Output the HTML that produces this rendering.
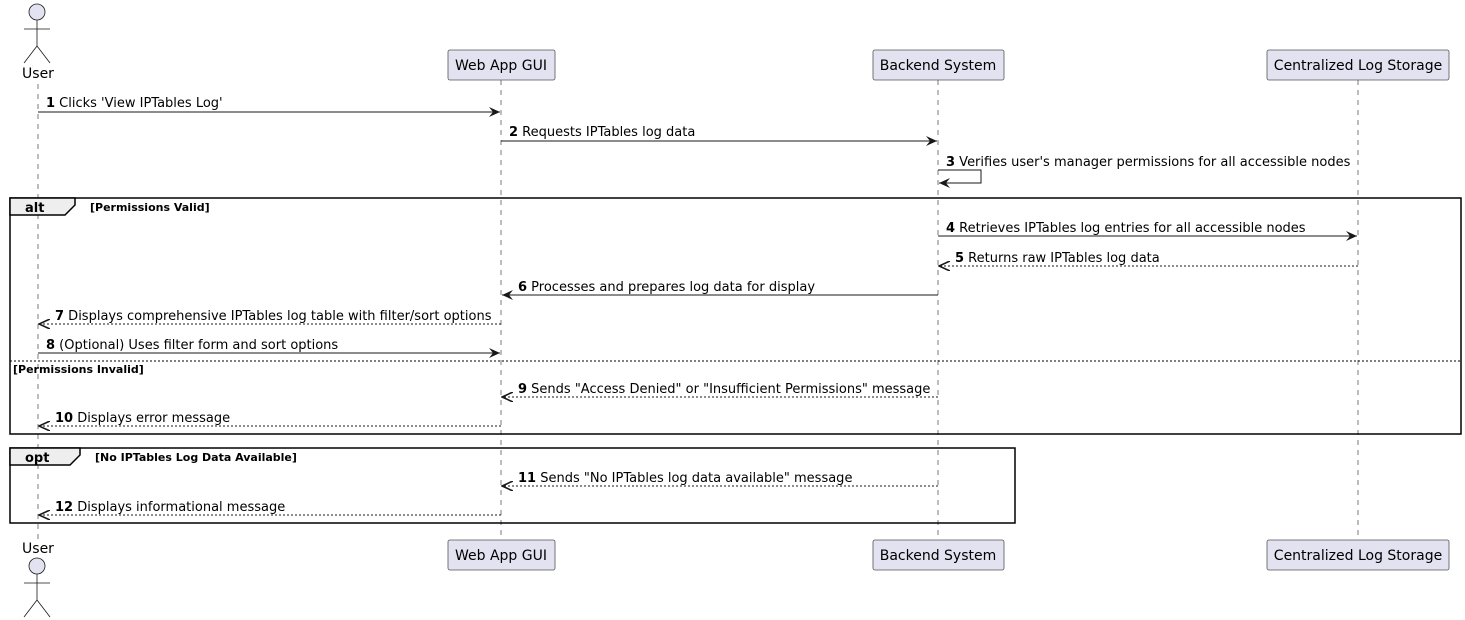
<!DOCTYPE html>
<html><head><meta charset="utf-8"><style>
html,body{margin:0;padding:0;background:#fff;}
svg{display:block;font-family:"DejaVu Sans","Liberation Sans",sans-serif;}
.t{font-size:13px;fill:#000;}
.p{font-size:14px;fill:#000;}
.b{font-weight:bold;}
.ll{stroke:#444;stroke-width:0.7;stroke-dasharray:5,5;}
.box{fill:#e2e2f0;stroke:#555;stroke-width:0.8;}
.m{stroke:#181818;stroke-width:1;fill:none;}
.d{stroke:#181818;stroke-width:1;stroke-dasharray:2,2;fill:none;}
.fr{fill:none;stroke:#000;stroke-width:1.5;}
.ft{font-size:11px;font-weight:bold;}
</style></head><body>
<svg width="1465" height="620" viewBox="0 0 1465 620" xmlns="http://www.w3.org/2000/svg">
<defs>
<marker id="a" viewBox="0 0 12 10" refX="11" refY="5" markerWidth="12" markerHeight="10" markerUnits="userSpaceOnUse" orient="auto"><path d="M0,0 L11,5 L0,10 L4,5 Z" fill="#181818"/></marker>
<marker id="o" viewBox="0 0 12 10" refX="11" refY="5" markerWidth="12" markerHeight="10" markerUnits="userSpaceOnUse" orient="auto"><path d="M0,0 L11,5 L0,10" fill="none" stroke="#181818" stroke-width="1.6"/></marker>
</defs>
<line class="ll" x1="38" y1="84" x2="38" y2="540"/>
<line class="ll" x1="501" y1="80" x2="501" y2="540"/>
<line class="ll" x1="938" y1="80" x2="938" y2="540"/>
<line class="ll" x1="1358" y1="80" x2="1358" y2="540"/>
<g stroke="#181818" stroke-width="0.8" fill="none">
<circle cx="37" cy="12" r="8" fill="#e2e2f0"/>
<line x1="37" y1="20" x2="37" y2="46"/><line x1="24" y1="29" x2="50" y2="29"/>
<line x1="37" y1="46" x2="24" y2="63"/><line x1="37" y1="46" x2="50" y2="63"/>
</g>
<text class="p" x="38" y="78" text-anchor="middle">User</text>
<g stroke="#181818" stroke-width="0.8" fill="none">
<circle cx="37" cy="566" r="8" fill="#e2e2f0"/>
<line x1="37" y1="574" x2="37" y2="600"/><line x1="24" y1="583" x2="50" y2="583"/>
<line x1="37" y1="600" x2="24" y2="617"/><line x1="37" y1="600" x2="50" y2="617"/>
</g>
<text class="p" x="38" y="553" text-anchor="middle">User</text>
<rect class="box" x="448" y="50" width="107" height="30" rx="2"/><text class="p" x="501" y="70" text-anchor="middle">Web App GUI</text>
<rect class="box" x="873" y="50" width="131" height="30" rx="2"/><text class="p" x="938" y="70" text-anchor="middle">Backend System</text>
<rect class="box" x="1267" y="50" width="182" height="30" rx="2"/><text class="p" x="1358" y="70" text-anchor="middle">Centralized Log Storage</text>
<rect class="box" x="448" y="540" width="107" height="30" rx="2"/><text class="p" x="501" y="560" text-anchor="middle">Web App GUI</text>
<rect class="box" x="873" y="540" width="131" height="30" rx="2"/><text class="p" x="938" y="560" text-anchor="middle">Backend System</text>
<rect class="box" x="1267" y="540" width="182" height="30" rx="2"/><text class="p" x="1358" y="560" text-anchor="middle">Centralized Log Storage</text>
<rect class="fr" x="10" y="198" width="1451" height="236"/>
<path d="M10,198 L75,198 L75,205 L65,215 L10,215 Z" fill="#eee" stroke="#000" stroke-width="1.5"/>
<text class="t b" x="25" y="212">alt</text>
<text class="ft" x="90" y="211">[Permissions Valid]</text>
<line x1="10" y1="361" x2="1461" y2="361" stroke="#000" stroke-width="1" stroke-dasharray="2,2"/>
<text class="ft" x="13" y="373">[Permissions Invalid]</text>
<rect class="fr" x="10" y="448" width="1005" height="75"/>
<path d="M10,448 L80,448 L80,455 L70,465 L10,465 Z" fill="#eee" stroke="#000" stroke-width="1.5"/>
<text class="t b" x="25" y="462">opt</text>
<text class="ft" x="95" y="461">[No IPTables Log Data Available]</text>
<line class="m" x1="38" y1="112" x2="500" y2="112" marker-end="url(#a)"/>
<text class="t" x="46" y="107"><tspan class="b">1</tspan> Clicks 'View IPTables Log'</text>
<line class="m" x1="501" y1="141" x2="937" y2="141" marker-end="url(#a)"/>
<text class="t" x="509" y="136"><tspan class="b">2</tspan> Requests IPTables log data</text>
<path class="m" d="M938,170 L981,170 L981,183 L939,183" marker-end="url(#a)"/>
<text class="t" x="946" y="166"><tspan class="b">3</tspan> Verifies user's manager permissions for all accessible nodes</text>
<line class="m" x1="938" y1="236" x2="1357" y2="236" marker-end="url(#a)"/>
<text class="t" x="946" y="232"><tspan class="b">4</tspan> Retrieves IPTables log entries for all accessible nodes</text>
<line class="d" x1="1358" y1="266" x2="939" y2="266" marker-end="url(#o)"/>
<text class="t" x="955" y="262"><tspan class="b">5</tspan> Returns raw IPTables log data</text>
<line class="m" x1="938" y1="295" x2="502" y2="295" marker-end="url(#a)"/>
<text class="t" x="518" y="291"><tspan class="b">6</tspan> Processes and prepares log data for display</text>
<line class="d" x1="501" y1="324" x2="39" y2="324" marker-end="url(#o)"/>
<text class="t" x="55" y="320"><tspan class="b">7</tspan> Displays comprehensive IPTables log table with filter/sort options</text>
<line class="m" x1="38" y1="353" x2="500" y2="353" marker-end="url(#a)"/>
<text class="t" x="46" y="349"><tspan class="b">8</tspan> (Optional) Uses filter form and sort options</text>
<line class="d" x1="938" y1="397" x2="502" y2="397" marker-end="url(#o)"/>
<text class="t" x="518" y="393"><tspan class="b">9</tspan> Sends "Access Denied" or "Insufficient Permissions" message</text>
<line class="d" x1="501" y1="426" x2="39" y2="426" marker-end="url(#o)"/>
<text class="t" x="55" y="422"><tspan class="b">10</tspan> Displays error message</text>
<line class="d" x1="938" y1="486" x2="502" y2="486" marker-end="url(#o)"/>
<text class="t" x="518" y="482"><tspan class="b">11</tspan> Sends "No IPTables log data available" message</text>
<line class="d" x1="501" y1="515" x2="39" y2="515" marker-end="url(#o)"/>
<text class="t" x="55" y="511"><tspan class="b">12</tspan> Displays informational message</text>
</svg>
</body></html>
